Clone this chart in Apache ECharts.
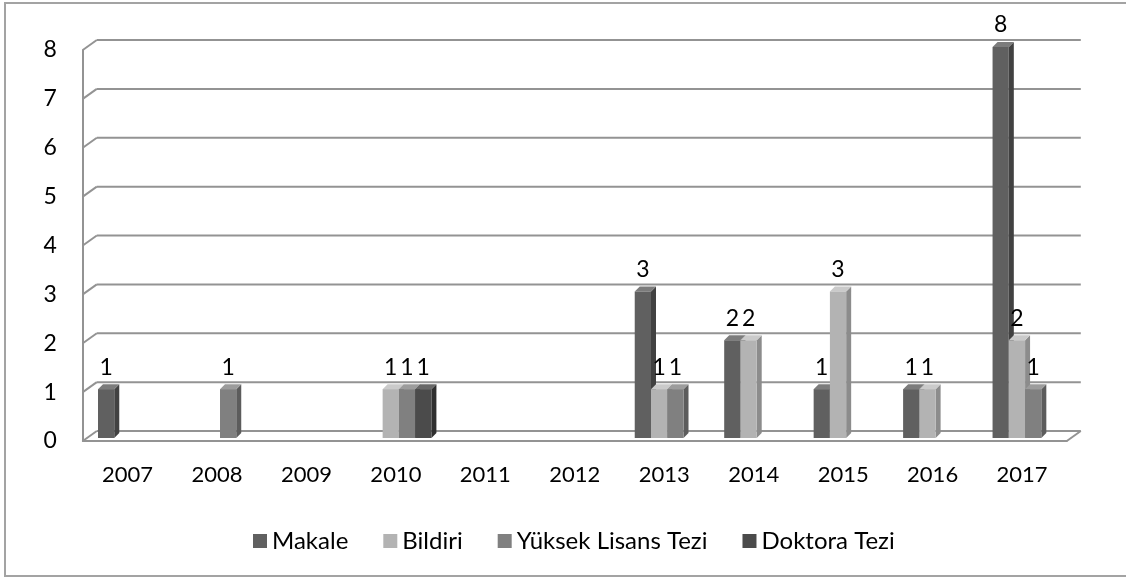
<!DOCTYPE html>
<html>
<head>
<meta charset="utf-8">
<script src="https://cdn.jsdelivr.net/npm/echarts@6/dist/echarts.min.js"></script>
<style>html,body{margin:0;padding:0;background:#fff;}#c{width:1126px;height:577px;}</style>
</head>
<body>
<div id="c"></div>
<script>
const years = ['2007','2008','2009','2010','2011','2012','2013','2014','2015','2016','2017'];
const yTicks = [0,1,2,3,4,5,6,7,8];
const seriesNames = ['Makale','Bildiri','Yüksek Lisans Tezi','Doktora Tezi'];
const makale   = [1,0,0,0,0,0,3,2,1,1,8];
const bildiri  = [0,0,0,1,0,0,1,2,3,1,2];
const ylTezi   = [0,1,0,1,0,0,1,0,0,0,1];
const doktora  = [0,0,0,1,0,0,0,0,0,0,0];
const seriesValues = [makale, bildiri, ylTezi, doktora];

const FONT = 'Lato, "Open Sans", sans-serif';
const palette = [
  {front:'#606060', side:'#414141', top:'#7c7c7c'},
  {front:'#b3b3b3', side:'#8c8c8c', top:'#cacaca'},
  {front:'#808080', side:'#5c5c5c', top:'#9c9c9c'},
  {front:'#4b4b4b', side:'#2f2f2f', top:'#686868'}
];
const GRID_COLOR = '#939393';
const DX = 14, DY = -10;      // back-wall depth offset
const BX = 3, BY = -3;        // bar depth offset
const D = 5;                  // bar 3D depth
const GROUP = 0.727;          // fraction of category used by bars

function wallItem(params, api) {
  const v = api.value(1);
  const cw = api.size([1, 0])[0];
  const p0 = api.coord([0, v]);
  const pN = api.coord([years.length - 1, v]);
  const xl = p0[0] - cw / 2, xr = pN[0] + cw / 2, y = p0[1];
  const st = {stroke: GRID_COLOR, lineWidth: 2, fill: null};
  const children = [
    {type:'line', shape:{x1:xl, y1:y, x2:xl+DX, y2:y+DY}, style:st},
    {type:'line', shape:{x1:xl+DX, y1:y+DY, x2:xr+DX, y2:y+DY}, style:st}
  ];
  if (v === 0) {
    children.push({type:'line', shape:{x1:xr, y1:y, x2:xr+DX, y2:y+DY}, style:st});
  }
  return {type:'group', children};
}

function makeBarRender(si) {
  return function (params, api) {
    const v = api.value(1);
    if (!v) return null;
    const idx = api.value(0);
    const cw = api.size([1, 0])[0];
    const bw = cw * GROUP / 4;
    const c = api.coord([idx, v]);
    const b = api.coord([idx, 0]);
    const left = c[0] + BX - 2 * bw + si * bw;
    const top = c[1] + BY;
    const base = b[1] + BY;
    const col = palette[si];
    return {
      type: 'group',
      children: [
        {type:'polygon', shape:{points:[[left+bw,top],[left+bw+D,top-D],[left+bw+D,base-D],[left+bw,base]]}, style:{fill:col.side}},
        {type:'polygon', shape:{points:[[left,top],[left+D,top-D],[left+bw+D,top-D],[left+bw,top]]}, style:{fill:col.top}},
        {type:'rect', shape:{x:left, y:top, width:bw, height:base-top}, style:{fill:col.front}},
        {type:'text', style:{text:String(v), x:left+bw/2, y:top-22, align:'center', verticalAlign:'middle',
          textAlign:'center', textVerticalAlign:'middle', fontSize:23, fontFamily:FONT, fill:'#000'}}
      ]
    };
  };
}

const series = [{
  type: 'custom',
  name: '_wall',
  renderItem: wallItem,
  data: yTicks.map(v => [0, v]),
  silent: true,
  z: 1
}];
seriesNames.forEach((name, si) => {
  series.push({
    type: 'custom',
    name: name,
    renderItem: makeBarRender(si),
    itemStyle: {color: palette[si].front},
    data: seriesValues[si].map((v, i) => [i, v]),
    z: 2 + si
  });
});

const chart = echarts.init(document.getElementById('c'));
chart.setOption({
  animation: false,
  backgroundColor: '#fff',
  graphic: [{
    type: 'rect', shape: {x: 5, y: 3, width: 1200, height: 573},
    style: {fill: null, stroke: '#a3a3a3', lineWidth: 2}, silent: true
  }],
  grid: {left: 82.8, top: 50, width: 984, height: 391},
  xAxis: {
    type: 'category', data: years,
    axisLine: {show: true, lineStyle: {color: GRID_COLOR, width: 2}},
    axisTick: {show: false},
    axisLabel: {fontSize: 22, fontFamily: FONT, color: '#000', margin: 34, verticalAlign: 'middle'},
    splitLine: {show: false}
  },
  yAxis: {
    type: 'value', min: 0, max: 8, interval: 1,
    axisLine: {show: true, lineStyle: {color: GRID_COLOR, width: 2}},
    axisTick: {show: false},
    splitLine: {show: false},
    axisLabel: {fontSize: 23, fontFamily: FONT, color: '#000', margin: 26, padding: [6, 0, 0, 0]}
  },
  legend: {
    data: seriesNames,
    left: 248, top: 524,
    icon: 'rect', itemWidth: 14, itemHeight: 14, itemGap: 35,
    textStyle: {fontSize: 24, fontFamily: FONT, color: '#000'}
  },
  series: series
});
</script>
</body>
</html>
